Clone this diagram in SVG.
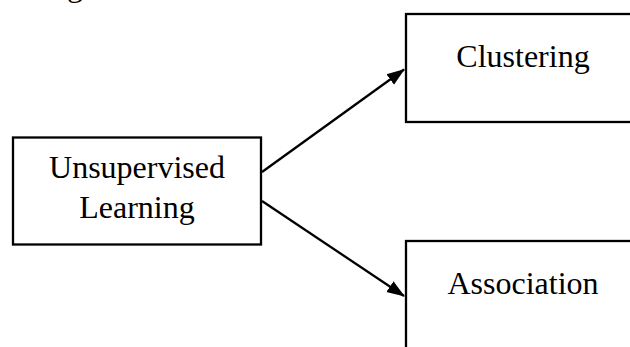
<svg xmlns="http://www.w3.org/2000/svg" width="630" height="347" viewBox="0 0 630 347">
  <style>
    .box { fill: #ffffff; stroke: #000000; stroke-width: 2.3; }
    .label { font-family: "Liberation Serif", "Times New Roman", serif; font-size: 32px; fill: #000000; text-anchor: middle; }
    .edge { fill: none; stroke: #000000; stroke-width: 2.3; }
  </style>
  <defs>
    <marker id="arrow" markerUnits="userSpaceOnUse" markerWidth="18" markerHeight="14" refX="17" refY="7" orient="auto">
      <path d="M0,0.5 L18,7 L0,13.5 z" fill="#000000"/>
    </marker>
  </defs>
  <rect width="630" height="347" fill="#ffffff"/>

  <!-- tail of a line of body text above the figure -->
  <text x="67" y="-4" font-family="Liberation Serif, serif" font-size="32px" fill="#000000">g</text>

  <g id="connectors">
    <line class="edge" x1="262" y1="172" x2="404" y2="69.5" marker-end="url(#arrow)"/>
    <line class="edge" x1="262" y1="201" x2="404" y2="296" marker-end="url(#arrow)"/>
  </g>

  <g id="unsupervised-learning">
    <rect class="box" x="13" y="137.5" width="248" height="107"/>
    <text class="label" x="137" y="178">Unsupervised</text>
    <text class="label" x="137" y="218">Learning</text>
  </g>

  <g id="clustering">
    <rect class="box" x="406" y="14" width="240" height="108"/>
    <text class="label" x="523" y="66.5">Clustering</text>
  </g>

  <g id="association">
    <rect class="box" x="406" y="241" width="240" height="120"/>
    <text class="label" x="523" y="294">Association</text>
  </g>
</svg>
